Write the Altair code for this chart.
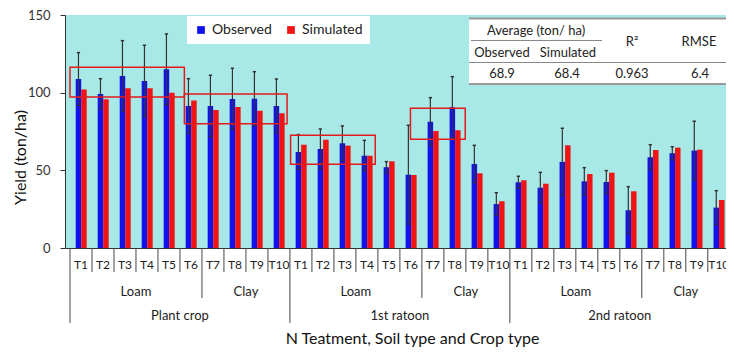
import altair as alt
import pandas as pd

# ---------------- data ----------------
crops = ["Plant crop", "1st ratoon", "2nd ratoon"]
treatments = ["T1", "T2", "T3", "T4", "T5", "T6", "T7", "T8", "T9", "T10"]
soils = ["Loam", "Loam", "Loam", "Loam", "Loam", "Loam", "Clay", "Clay", "Clay", "Clay"]

observed = [108.8, 99.2, 110.8, 107.5, 115.0, 91.4, 91.4, 96.0, 96.1, 91.4,
            61.8, 63.7, 67.4, 59.4, 52.0, 47.2, 81.3, 90.6, 54.1, 28.3,
            42.3, 38.8, 55.4, 42.9, 42.5, 24.3, 58.4, 61.0, 62.7, 26.0]
simulated = [102.0, 95.7, 102.8, 102.8, 100.0, 94.9, 88.9, 90.8, 88.4, 86.7,
             66.5, 69.7, 65.9, 59.4, 55.8, 47.0, 75.3, 75.8, 48.1, 30.1,
             43.6, 41.4, 66.1, 47.6, 48.5, 36.5, 63.1, 64.6, 63.3, 30.9]
observed_sd = [17.0, 9.8, 22.7, 23.0, 22.8, 17.6, 19.8, 19.7, 17.4, 17.4,
               11.2, 12.9, 11.2, 9.9, 3.6, 31.8, 15.5, 19.7, 12.0, 7.3,
               3.9, 9.9, 21.7, 8.8, 7.3, 15.2, 8.1, 4.2, 18.9, 10.9]

table_title = "Average (ton/ ha)"
table_subheads = ["Observed", "Simulated"]
table_stats = ["R\u00b2", "RMSE"]
table_values = ["68.9", "68.4", "0.963", "6.4"]

series_names = ["Observed", "Simulated"]
series_colors = ["#1212EC", "#F01414"]

# ---------------- tables ----------------
rows = []
for ci, crop in enumerate(crops):
    for ti, (t, s) in enumerate(zip(treatments, soils)):
        k = ci * 10 + ti
        rows.append(dict(idx=k, tpos=ti, crop=crop, treatment=t, soil=s,
                         observed=observed[k], simulated=simulated[k], sd=observed_sd[k]))
cat = pd.DataFrame(rows)
long = cat.melt(id_vars=["idx"], value_vars=["observed", "simulated"],
                var_name="key", value_name="value")
long["series"] = long["key"].map({"observed": "Observed", "simulated": "Simulated"})

# highlighted groups (annotation boxes): category-unit x range, yield range
boxes = pd.DataFrame({
    "x0": [0.0, 5.2, 10.03, 15.48],
    "x1": [5.2, 9.87, 13.88, 17.97],
    "y0": [97.2, 80.0, 53.9, 70.0],
    "y1": [116.4, 99.2, 72.6, 89.9],
})

FONT = "Lato"
xscale = alt.Scale(domain=[0, 29.6], nice=False, zero=False)
yscale = alt.Scale(domain=[0, 150], nice=False)
one = pd.DataFrame({"a": [0]})

x_axis = alt.Axis(labels=False, ticks=False, grid=False, domain=True,
                  domainColor="#333", domainWidth=1,
                  title="N Teatment, Soil type and Crop type",
                  titleFont=FONT, titleFontSize=16, titleFontWeight="normal",
                  titleColor="#111", titleX=347, titleY=90, titleBaseline="middle")
y_axis = alt.Axis(values=[0, 50, 100, 150], grid=False, domainColor="#333",
                  tickColor="#333", tickSize=5, labelPadding=10,
                  labelFont=FONT, labelFontSize=13, labelColor="#333",
                  title="Yield (ton/ha)", titleFont=FONT, titleFontSize=16,
                  titleFontWeight="normal", titleColor="#111",
                  titleX=-45, titleY=142, titleAlign="center", titleBaseline="middle")
XA = dict(scale=xscale, axis=x_axis)
YA = dict(scale=yscale, axis=y_axis)

bars = alt.Chart(long).transform_calculate(
    x0="datum.idx + (datum.series == 'Observed' ? 0.26 : 0.51)",
    x1="datum.idx + (datum.series == 'Observed' ? 0.51 : 0.76)",
).mark_bar(clip=True, orient="vertical").encode(
    x=alt.X("x0:Q", **XA),
    x2="x1:Q",
    y=alt.Y("value:Q", **YA),
    y2=alt.datum(0),
    color=alt.Color("series:N",
                    scale=alt.Scale(domain=series_names, range=series_colors),
                    legend=alt.Legend(orient="none", legendX=122, legendY=1,
                                      direction="horizontal", title=None,
                                      fillColor="white", padding=7,
                                      columnPadding=12, symbolType="square",
                                      symbolSize=60, symbolStrokeWidth=0,
                                      labelFont=FONT, labelFontSize=14,
                                      labelColor="#222")),
)

err_base = alt.Chart(cat).transform_calculate(
    xc="datum.idx + 0.385", c0="datum.idx + 0.31", c1="datum.idx + 0.46",
    lo="datum.observed - datum.sd", hi="datum.observed + datum.sd",
)
err = err_base.mark_rule(color="#333", strokeWidth=1.2, clip=True).encode(
    x=alt.X("xc:Q", **XA), y=alt.Y("lo:Q", **YA), y2="hi:Q")
cap_top = err_base.mark_rule(color="#333", strokeWidth=1.5, clip=True).encode(
    x=alt.X("c0:Q", **XA), x2="c1:Q", y=alt.Y("hi:Q", **YA))
cap_bot = err_base.mark_rule(color="#333", strokeWidth=1.2, clip=True).encode(
    x=alt.X("c0:Q", **XA), x2="c1:Q", y=alt.Y("lo:Q", **YA))

hl = alt.Chart(boxes).mark_rect(fillOpacity=0, stroke="#E41A1A", strokeWidth=1.5).encode(
    x=alt.X("x0:Q", **XA), x2="x1:Q",
    y=alt.Y("y0:Q", **YA), y2="y1:Q")

# ---------- multi-level category axis ----------
t_labels = alt.Chart(cat).transform_calculate(xc="datum.idx + 0.5").mark_text(
    font=FONT, fontSize=12, color="#222", baseline="middle").encode(
    x=alt.X("xc:Q", **XA), y=alt.value(250), text="treatment:N")
soil_labels = alt.Chart(cat).transform_calculate(xc="datum.idx + 0.5").transform_aggregate(
    xm="mean(xc)", groupby=["crop", "soil"]).mark_text(
    font=FONT, fontSize=13, color="#222", baseline="middle").encode(
    x=alt.X("xm:Q", **XA), y=alt.value(277), text="soil:N")
crop_labels = alt.Chart(cat).transform_calculate(xc="datum.idx + 0.5").transform_aggregate(
    xm="mean(xc)", groupby=["crop"]).mark_text(
    font=FONT, fontSize=13, color="#222", baseline="middle").encode(
    x=alt.X("xm:Q", **XA), y=alt.value(301), text="crop:N")

sep_base = alt.Chart(cat).mark_rule(color="#444", strokeWidth=1)
sep_t = sep_base.transform_filter("datum.tpos != 0 && datum.tpos != 6").encode(
    x=alt.X("idx:Q", **XA), y=alt.value(233), y2=alt.value(257))
sep_s = sep_base.transform_filter("datum.tpos == 6").encode(
    x=alt.X("idx:Q", **XA), y=alt.value(233), y2=alt.value(283))
sep_c = sep_base.transform_filter("datum.tpos == 0").encode(
    x=alt.X("idx:Q", **XA), y=alt.value(233), y2=alt.value(308))

# ---------- statistics table ----------
tbl_box = alt.Chart(one).mark_rect(fill="white").encode(
    x=alt.value(404), x2=alt.value(661), y=alt.value(3), y2=alt.value(69))
tbl_lines = [
    alt.Chart(one).mark_rule(color="#999", strokeWidth=2).encode(
        x=alt.value(404), x2=alt.value(661), y=alt.value(3.5)),
    alt.Chart(one).mark_rule(color="#888", strokeWidth=1).encode(
        x=alt.value(406), x2=alt.value(537), y=alt.value(25.5)),
    alt.Chart(one).mark_rule(color="#888", strokeWidth=1).encode(
        x=alt.value(404), x2=alt.value(661), y=alt.value(47.5)),
    alt.Chart(one).mark_rule(color="#999", strokeWidth=2).encode(
        x=alt.value(404), x2=alt.value(661), y=alt.value(69)),
]
tbl_texts = []
cells = ([(table_title, 471, 16)]
         + list(zip(table_subheads, [437, 503], [37.5, 37.5]))
         + list(zip(table_stats, [567, 634], [27, 27]))
         + list(zip(table_values, [437, 502, 567, 635], [59, 59, 59, 59])))
for txt, px, py in cells:
    tbl_texts.append(alt.Chart(one).mark_text(
        text=txt, font=FONT, fontSize=13, color="#222", baseline="middle",
        align="center").encode(x=alt.value(px), y=alt.value(py)))

chart = alt.layer(
    bars, err, cap_top, cap_bot, hl,
    sep_t, sep_s, sep_c, t_labels, soil_labels, crop_labels,
    tbl_box, *tbl_lines, *tbl_texts,
).properties(
    width=661, height=233,
    autosize=alt.AutoSizeParams(type="none"),
    padding={"left": 57, "top": 7, "right": 0, "bottom": 100},
).configure_view(fill="#A8E9E7", stroke=None)

chart.save("out.html", embed_options={"renderer": "svg", "actions": False})
